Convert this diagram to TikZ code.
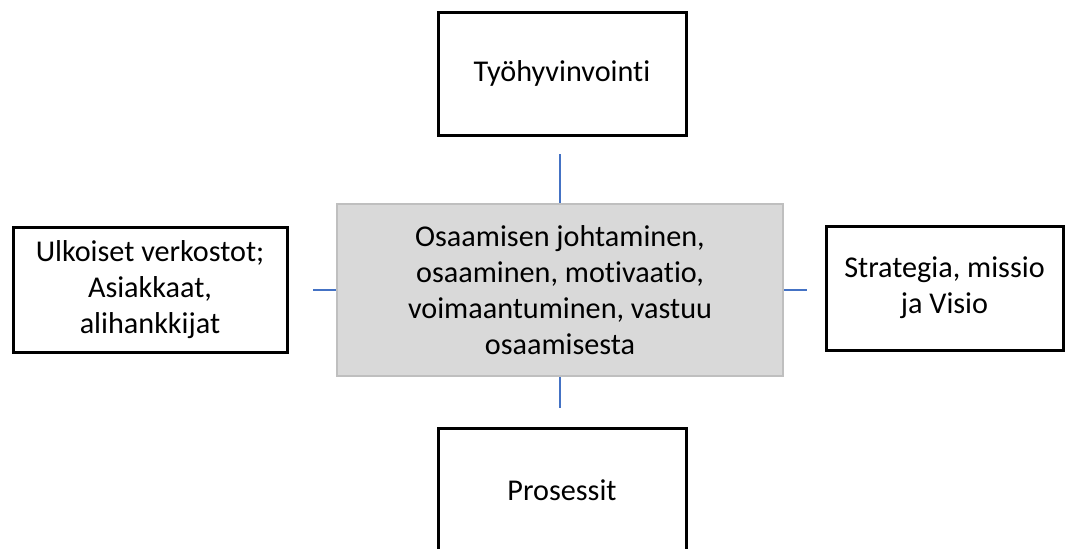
\documentclass[tikz,border=0pt]{standalone}
\usepackage{fontspec}
\setmainfont{Carlito}[RawFeature=-liga]
\definecolor{linkblue}{HTML}{4472C4}
\definecolor{corefill}{HTML}{D9D9D9}
\definecolor{coreedge}{HTML}{BFBFBF}
\tikzset{
  x=1pt, y=-1pt,
  every node/.style={font=\fontsize{30.2}{36.2}\selectfont, align=center, inner sep=0pt},
  outerbox/.style={draw=black, line width=3pt, fill=white},
  corebox/.style={draw=coreedge, line width=2pt, fill=corefill},
  link/.style={draw=linkblue, line width=1.1pt}
}
\begin{document}
\begin{tikzpicture}
  \useasboundingbox (0,0) rectangle (1074,549);

  % central theme
  \node[corebox, minimum width=446pt, minimum height=172pt] (core) at (560,290)
    {Osaamisen johtaminen,\\osaaminen, motivaatio,\\voimaantuminen, vastuu\\osaamisesta};

  % surrounding themes
  \node[outerbox, minimum width=248pt, minimum height=123pt] (top) at (562,73.5) {Työhyvinvointi};
  \node[outerbox, minimum width=274pt, minimum height=125pt] (left) at (150,289.5)
    {Ulkoiset verkostot;\\Asiakkaat,\\alihankkijat};
  \node[outerbox, minimum width=237pt, minimum height=124pt] (right) at (944.5,288)
    {Strategia, missio\\ja Visio};
  \node[outerbox, minimum width=248pt, minimum height=124pt] (bottom) at (562,490) {Prosessit};

  % short link stubs
  \coordinate (tstub) at (560,154);
  \coordinate (bstub) at (560,408);
  \coordinate (lstub) at (313,290);
  \coordinate (rstub) at (807,290);
  \draw[link] (tstub) -- (core.north);
  \draw[link] (core.south) -- (bstub);
  \draw[link] (lstub) -- (core.west);
  \draw[link] (core.east) -- (rstub);
\end{tikzpicture}
\end{document}
